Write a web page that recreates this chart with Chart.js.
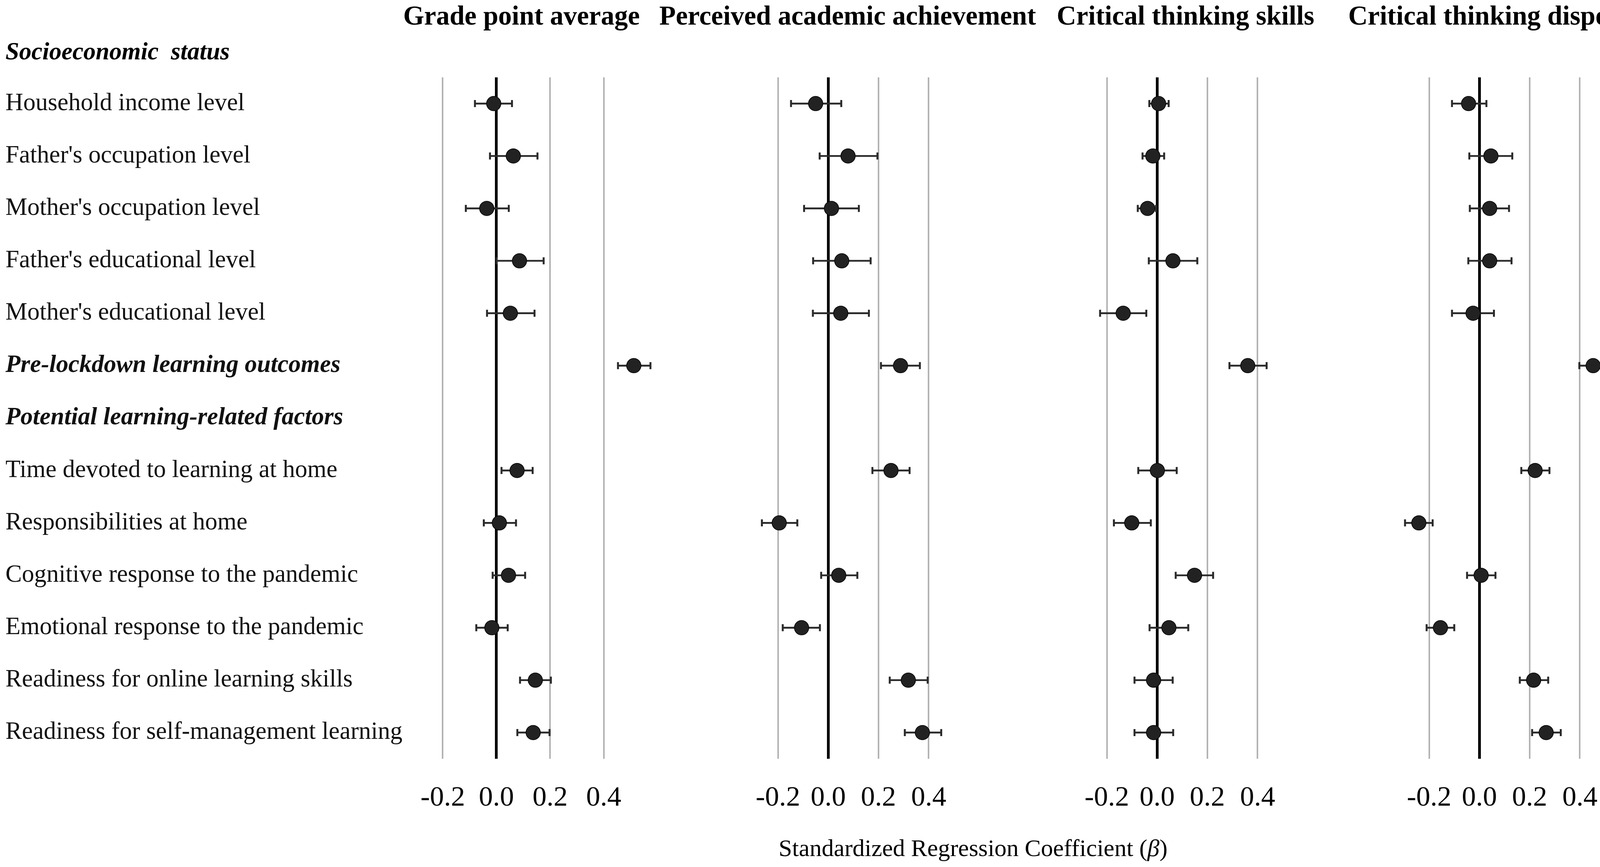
<!DOCTYPE html>
<html lang="en">
<head>
<meta charset="UTF-8">
<title>Standardized regression coefficients</title>
<script src="https://cdn.jsdelivr.net/npm/chart.js"></script>
<style>
    body { margin: 0; background: #fff; }
    #wrap { position: relative; width: 4317px; height: 2219px; background: #fff; font-family: 'Liberation Serif', 'Times New Roman', serif; color: #000; }
    #wrap canvas { position: absolute; top: 0; }
    .txt { position: absolute; white-space: pre; line-height: 1; }
    .title { font-weight: bold; font-size: 69px; width: 1000px; text-align: center; top: 6px; }
</style>
</head>
<body>
<div id="wrap">
    <div class="txt title" style="left:835px">Grade point average</div>
    <div class="txt title" style="left:1670px">Perceived academic achievement</div>
    <div class="txt title" style="left:2535px">Critical thinking skills</div>
    <div class="txt title" style="left:3379px">Critical thinking dispositions</div>
    <div class="txt" style="left:14px; top:100px; font-size:63px; font-weight:bold; font-style:italic">Socioeconomic  status</div>
    <canvas id="c1" width="1703" height="2100" style="left:0px"></canvas>
    <canvas id="c2" width="652" height="2100" style="left:1874px"></canvas>
    <canvas id="c3" width="652" height="2100" style="left:2716px"></canvas>
    <canvas id="c4" width="652" height="2100" style="left:3541px"></canvas>
    <div class="txt" style="left:1991px; width:1000px; text-align:center; top:2139px; font-size:62px">Standardized Regression Coefficient (<i>β</i>)</div>
</div>
<script>
    // rows of the forest plot (the "Socioeconomic status" header sits above the grid)
    const rows = [
        "Household income level",
        "Father's occupation level",
        "Mother's occupation level",
        "Father's educational level",
        "Mother's educational level",
        "Pre-lockdown learning outcomes",
        "Potential learning-related factors",
        "Time devoted to learning at home",
        "Responsibilities at home",
        "Cognitive response to the pandemic",
        "Emotional response to the pandemic",
        "Readiness for online learning skills",
        "Readiness for self-management learning"
    ];
    const headerRows = ["Pre-lockdown learning outcomes", "Potential learning-related factors"];
    const xTicks = [-0.2, 0.0, 0.2, 0.4];

    // Grade point average
    const gpaEst = [-0.010, 0.063, -0.036, 0.086, 0.052, 0.512, null, 0.077, 0.011, 0.045, -0.017, 0.145, 0.137];
    const gpaLo  = [-0.080, -0.024, -0.114, 0.001, -0.035, 0.453, null, 0.019, -0.047, -0.014, -0.075, 0.088, 0.078];
    const gpaHi  = [0.058, 0.153, 0.046, 0.176, 0.142, 0.574, null, 0.135, 0.073, 0.107, 0.042, 0.203, 0.198];

    // Perceived academic achievement
    const paaEst = [-0.050, 0.079, 0.013, 0.054, 0.050, 0.288, null, 0.250, -0.195, 0.042, -0.106, 0.319, 0.375];
    const paaLo  = [-0.148, -0.034, -0.096, -0.060, -0.061, 0.210, null, 0.176, -0.264, -0.028, -0.181, 0.245, 0.305];
    const paaHi  = [0.052, 0.196, 0.122, 0.169, 0.162, 0.365, null, 0.324, -0.123, 0.116, -0.033, 0.396, 0.450];

    // Critical thinking skills
    const ctsEst = [0.006, -0.017, -0.038, 0.063, -0.135, 0.361, null, 0.001, -0.101, 0.149, 0.047, -0.014, -0.014];
    const ctsLo  = [-0.031, -0.058, -0.077, -0.033, -0.227, 0.288, null, -0.075, -0.172, 0.074, -0.030, -0.090, -0.090];
    const ctsHi  = [0.046, 0.028, -0.005, 0.160, -0.043, 0.436, null, 0.078, -0.025, 0.223, 0.124, 0.062, 0.064];

    // Critical thinking dispositions
    const ctdEst = [-0.043, 0.046, 0.041, 0.041, -0.025, 0.453, null, 0.222, -0.241, 0.007, -0.155, 0.216, 0.266];
    const ctdLo  = [-0.109, -0.040, -0.038, -0.044, -0.109, 0.398, null, 0.167, -0.296, -0.049, -0.210, 0.161, 0.210];
    const ctdHi  = [0.028, 0.131, 0.118, 0.128, 0.058, 0.508, null, 0.279, -0.186, 0.064, -0.100, 0.274, 0.324];

    const serif = "'Liberation Serif', 'Times New Roman', serif";
    const barColor = '#2b2b2b';

    function points(vals) {
        const out = [];
        vals.forEach((v, i) => { if (v !== null) out.push({ x: v, y: rows[i] }); });
        return out;
    }

    function makePanel(id, est, lo, hi, showLabels) {
        const ctx = document.getElementById(id).getContext('2d');
        return new Chart(ctx, {
            type: 'bar',
            data: {
                labels: rows,
                datasets: [
                    {   // confidence interval line
                        type: 'bar',
                        data: lo.map((v, i) => v === null ? null : [v, hi[i]]),
                        backgroundColor: barColor,
                        barThickness: 4,
                        order: 2
                    },
                    {   // lower cap
                        type: 'line',
                        data: points(lo),
                        showLine: false,
                        pointStyle: 'line',
                        rotation: 90,
                        pointRadius: 9,
                        borderColor: barColor,
                        borderWidth: 5,
                        order: 1
                    },
                    {   // upper cap
                        type: 'line',
                        data: points(hi),
                        showLine: false,
                        pointStyle: 'line',
                        rotation: 90,
                        pointRadius: 9,
                        borderColor: barColor,
                        borderWidth: 5,
                        order: 1
                    },
                    {   // estimate
                        type: 'line',
                        data: points(est),
                        showLine: false,
                        pointStyle: 'circle',
                        pointRadius: 18.5,
                        pointBackgroundColor: '#222',
                        pointBorderColor: '#000',
                        pointBorderWidth: 1.5,
                        order: 0
                    }
                ]
            },
            options: {
                indexAxis: 'y',
                responsive: false,
                animation: false,
                layout: { padding: { left: showLabels ? 14 : 0, top: 198, right: 0, bottom: 0 } },
                plugins: { legend: { display: false }, tooltip: { enabled: false } },
                scales: {
                    x: {
                        type: 'linear',
                        min: -0.32,
                        max: 0.6,
                        afterBuildTicks: (scale) => { scale.ticks = xTicks.map(v => ({ value: v })); },
                        afterFit: (scale) => { scale.height = 158; },
                        border: { display: false },
                        grid: {
                            drawTicks: false,
                            color: (c) => c.tick && c.tick.value === 0 ? '#000' : '#b3b3b3',
                            lineWidth: (c) => c.tick && c.tick.value === 0 ? 7 : 4
                        },
                        ticks: {
                            padding: 58,
                            color: '#000',
                            font: { family: serif, size: 72 },
                            callback: (v) => Number(v).toFixed(1)
                        }
                    },
                    y: {
                        type: 'category',
                        offset: true,
                        display: showLabels,
                        // only the first panel carries the row labels
                        afterFit: (scale) => { scale.width = showLabels ? 1037 : 0; },
                        border: { display: false },
                        grid: { display: false },
                        ticks: {
                            autoSkip: false,
                            crossAlign: 'far',
                            color: '#111',
                            font: (c) => headerRows.includes(rows[c.index])
                                ? { family: serif, size: 63, weight: 'bold', style: 'italic' }
                                : { family: serif, size: 63 }
                        }
                    }
                }
            }
        });
    }

    makePanel('c1', gpaEst, gpaLo, gpaHi, true);
    makePanel('c2', paaEst, paaLo, paaHi, false);
    makePanel('c3', ctsEst, ctsLo, ctsHi, false);
    makePanel('c4', ctdEst, ctdLo, ctdHi, false);
</script>
</body>
</html>
